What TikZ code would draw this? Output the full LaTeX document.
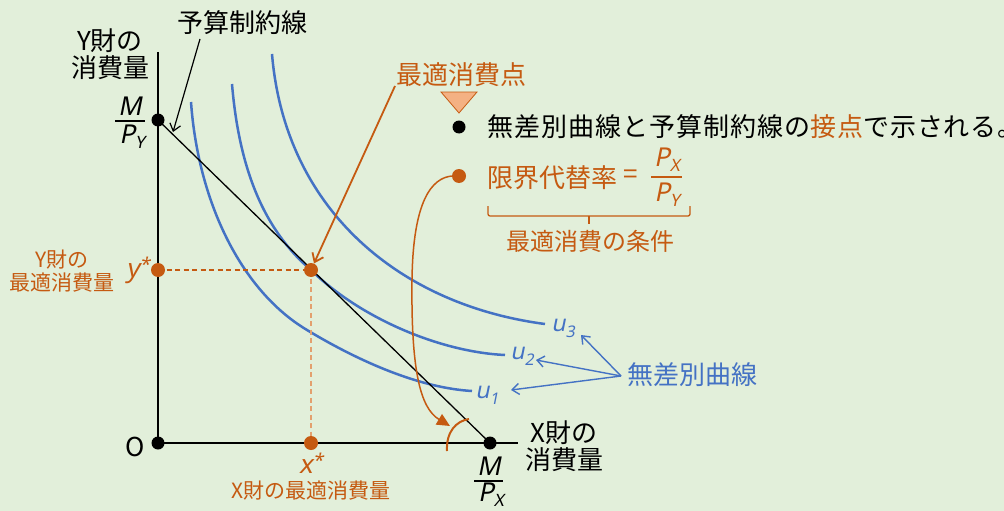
\documentclass[tikz,border=0pt]{standalone}
\usepackage{fontspec}
\setmainfont{Noto Sans CJK JP}
\newfontfamily\itf{Noto Sans}[FakeSlant=0.2]
\usetikzlibrary{arrows.meta}
\definecolor{bg}{HTML}{E2EFDA}
\definecolor{org}{HTML}{C55A11}
\definecolor{lorg}{HTML}{E3A06E}
\definecolor{peach}{HTML}{F4B183}
\definecolor{blu}{HTML}{4472C4}
\begin{document}
\begin{tikzpicture}[x=1pt,y=-1pt,
  ja/.style={font=\fontsize{26}{27}\selectfont, inner sep=0pt, align=center},
  jam/.style={font=\fontsize{24}{26}\selectfont, inner sep=0pt, align=center},
  jas/.style={font=\fontsize{21}{23}\selectfont, inner sep=0pt, align=center},
  mth/.style={font=\fontsize{26}{27}\selectfont\itf, inner sep=0pt},
  umth/.style={font=\fontsize{23}{25}\selectfont\itf, inner sep=0pt, blu},
  dotb/.style={circle,fill=black,minimum size=13pt,inner sep=0pt},
  doto/.style={circle,fill=org,minimum size=14pt,inner sep=0pt},
  ucurve/.style={blu,line width=2.5pt},
  barbk/.style={-{Straight Barb[length=7pt,width=11pt]}},
  dsh/.style={line width=1.2pt, dash pattern=on 5pt off 3.5pt}
]
\fill[bg] (0,0) rectangle (1004,511);
\useasboundingbox (0,0) rectangle (1004,511);

% positions
\coordinate (ytop) at (158,52);
\coordinate (xend) at (518,443);
\coordinate (Op) at (158,443);
\coordinate (myp) at (158,120);
\coordinate (mxp) at (490,443);
\coordinate (optp) at (311,270);
\coordinate (ysp) at (158,270);
\coordinate (xsp) at (311,443);

% indifference curves
\draw[ucurve] (191,102) .. controls (198,200) and (240,290) .. (307,330) .. controls (360,362) and (420,388) .. (472,391);
\draw[ucurve] (232,84) .. controls (240,180) and (270,235) .. (311,270) .. controls (360,318) and (440,352) .. (505,355);
\draw[ucurve] (272,54) .. controls (285,210) and (400,305) .. (545,324);

% axes and budget line
\draw[line width=1.8pt] (ytop) -- (Op) -- (xend);
\draw[line width=1.3pt] (myp) -- (mxp);

% dashed guides
\draw[org, dsh] (ysp) -- (optp);
\draw[lorg, dsh] (optp) -- (xsp);

% dots
\node[dotb] (O) at (Op) {};
\node[dotb] (my) at (myp) {};
\node[dotb] (mx) at (mxp) {};
\node[doto] (opt) at (optp) {};
\node[doto] (ys) at (ysp) {};
\node[doto] (xs) at (xsp) {};

% axis labels
\node[ja] (ylab) at (110,54) {Y財の\\消費量};
\node[ja] (xlab) at (564,446) {X財の\\消費量};
\node[ja] (olab) at (135,447) {O};

% M/P_Y
\node[mth] (myn) at (130,106) {M};
\node[mth] (myd) at (132,137) {P\raisebox{-5pt}{\fontsize{17}{17}\selectfont Y}};
\draw[line width=1.3pt] (115,121) -- (145,121);
% M/P_X
\node[mth] (mxn) at (489,466) {M};
\node[mth] (mxd) at (491,495) {P\raisebox{-5pt}{\fontsize{17}{17}\selectfont X}};
\draw[line width=1.3pt] (474,481) -- (503,481);

% budget label
\node[ja] (blab) at (242,23) {予算制約線};
\coordinate (bls) at (200,39);
\draw[line width=1.2pt, barbk] (bls) -- (173,132);

% optimal point label
\node[ja, text=org] (olb) at (461,75) {最適消費点};
\coordinate (ols) at (395,86);
\draw[org, line width=1.8pt, -{Straight Barb[length=8pt,width=12pt]}] (ols) -- (opt);

% y*, x*
\node[mth, text=org] (ystar) at (138,270) {y\raisebox{6pt}{\fontsize{19}{19}\selectfont *}};
\node[mth, text=org] (xstar) at (311,463) {x\raisebox{6pt}{\fontsize{19}{19}\selectfont *}};
\node[jas, text=org] (ylab2) at (62,271) {Y財の\\最適消費量};
\node[jas, text=org] (xlab2) at (311,491) {X財の最適消費量};

% triangle and bullets
\filldraw[fill=peach, draw=org, line width=0.8pt] (441,92) -- (477,92) -- (459,113) -- cycle;
\node[dotb] (b1) at (459,127) {};
\node[doto] (b2) at (459,176) {};
\node[ja, anchor=west, font=\fontsize{26}{27}\selectfont\addfontfeatures{LetterSpace=3.8}] (t1) at (487,127) {無差別曲線と予算制約線の\textcolor{org}{接点}で示される。};
\node[ja, anchor=west, text=org] (t2) at (487,178) {限界代替率};
\node[ja, text=org] (eq) at (631,177) {=};
\node[mth, text=org] (pxn) at (667,160) {P\raisebox{-5pt}{\fontsize{17}{17}\selectfont X}};
\node[mth, text=org] (pyd) at (667,195) {P\raisebox{-5pt}{\fontsize{17}{17}\selectfont Y}};
\draw[org, line width=1.3pt] (651,177) -- (682,177);

% bracket
\draw[org, line width=1.3pt, rounded corners=2pt] (488,206) -- (488,216) -- (690,216) -- (690,206);
\draw[org, line width=1.3pt] (589,216) -- (589,224);
\node[jam, text=org] (cond) at (590,241) {最適消費の条件};

% curved arrow to angle
\coordinate (ae) at (450,426);
\draw[org, line width=1.5pt, -{Triangle[length=13pt,width=12pt]}] (b2.west) .. controls (432,178) and (413,200) .. (412,280) .. controls (411,370) and (420,408) .. (ae);
\draw[org, line width=2pt] (447,451) .. controls (446,432) and (456,421) .. (469,419);

% u labels
\node[umth] (u3) at (563,328) {u\raisebox{-6pt}{\upshape\fontsize{16}{16}\selectfont 3}};
\node[umth] (u2) at (522,356) {u\raisebox{-6pt}{\upshape\fontsize{16}{16}\selectfont 2}};
\node[umth] (u1) at (487,395) {u\raisebox{-6pt}{\upshape\fontsize{16}{16}\selectfont 1}};
\node[ja, text=blu] (icl) at (692,375) {無差別曲線};
\coordinate (ics) at (621,376);
\coordinate (t3) at (581,335);
\coordinate (t2c) at (536,360);
\coordinate (t1c) at (511,390);
\draw[blu, line width=1.4pt, barbk] (ics) -- (t3);
\draw[blu, line width=1.4pt, barbk] (ics) -- (t2c);
\draw[blu, line width=1.4pt, barbk] (ics) -- (t1c);
\end{tikzpicture}
\end{document}
